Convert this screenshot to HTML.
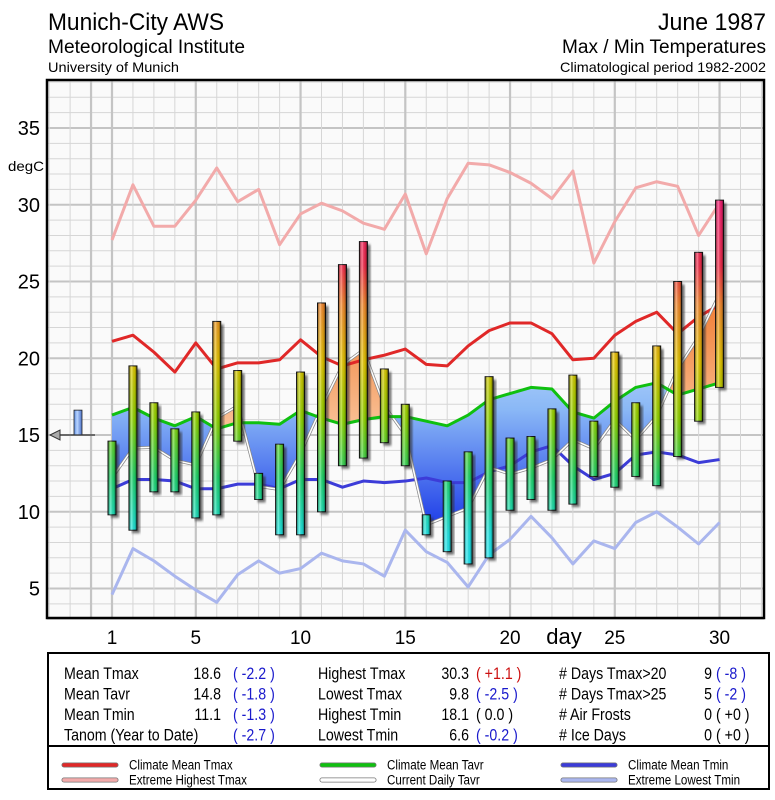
<!DOCTYPE html>
<html><head><meta charset="utf-8"><style>
body{margin:0;background:#fff;}
svg{display:block;font-family:"Liberation Sans",sans-serif;}
</style></head><body>
<svg id="chart" width="775" height="800" viewBox="0 0 775 800">
<defs>
<linearGradient id="gBlue" x1="0" y1="0" x2="0" y2="1"><stop offset="0" stop-color="#e0f0ff"/><stop offset="0.5" stop-color="#8ab8f6"/><stop offset="1" stop-color="#1f3ee8"/></linearGradient>
<linearGradient id="gOrange" x1="0" y1="0" x2="0" y2="1"><stop offset="0" stop-color="#f07a30"/><stop offset="1" stop-color="#fff4e0"/></linearGradient>
<linearGradient id="gCyl" x1="0" y1="0" x2="1" y2="0"><stop offset="0" stop-color="#000" stop-opacity="0.45"/><stop offset="0.35" stop-color="#fff" stop-opacity="0.35"/><stop offset="0.7" stop-color="#000" stop-opacity="0.1"/><stop offset="1" stop-color="#000" stop-opacity="0.55"/></linearGradient>
<filter id="blur"><feGaussianBlur stdDeviation="1.2"/></filter>
<linearGradient id="gMark" x1="0" y1="0" x2="1" y2="0"><stop offset="0" stop-color="#5a8ae0"/><stop offset="0.4" stop-color="#b8d4ff"/><stop offset="1" stop-color="#4a70c8"/></linearGradient>
</defs>
<g>
<text x="48" y="30" font-size="24" textLength="176" lengthAdjust="spacingAndGlyphs">Munich-City AWS</text>
<text x="48" y="53" font-size="19" textLength="197" lengthAdjust="spacingAndGlyphs">Meteorological Institute</text>
<text x="48" y="72" font-size="14" textLength="131" lengthAdjust="spacingAndGlyphs">University of Munich</text>
<text x="766" y="30" font-size="24" text-anchor="end" textLength="108" lengthAdjust="spacingAndGlyphs">June 1987</text>
<text x="766" y="53" font-size="19" text-anchor="end" textLength="204" lengthAdjust="spacingAndGlyphs">Max / Min Temperatures</text>
<text x="766" y="72" font-size="14" text-anchor="end" textLength="206" lengthAdjust="spacingAndGlyphs">Climatological period 1982-2002</text>
</g>
<g id="plot"></g>
<g font-size="16">
<rect x="48" y="653" width="721" height="93" fill="#fff" stroke="#000" stroke-width="2"/>
<rect x="48" y="746" width="721" height="43" fill="#fff" stroke="#000" stroke-width="2"/>
<g id="stats"></g>
<g id="legend" font-size="12"></g>
</g>
</svg>
<script>
const days=[];for(let i=1;i<=30;i++)days.push(i);
const tmax=[14.6,19.5,17.1,15.4,16.5,22.4,19.2,12.5,14.4,19.1,23.6,26.1,27.6,19.3,17.0,9.8,12.0,13.9,18.8,14.8,14.9,16.7,18.9,15.9,20.4,17.1,20.8,25.0,26.9,30.3];
const tmin=[9.8,8.8,11.3,11.3,9.6,9.8,14.6,10.8,8.5,8.5,10.0,13.0,13.5,14.5,13.0,8.5,7.4,6.6,7.0,10.1,10.8,10.1,10.5,12.3,11.6,12.3,11.7,13.6,15.9,18.1];
const climMax=[21.1,21.5,20.4,19.1,21.0,19.3,19.7,19.7,19.9,21.2,20.1,19.5,19.9,20.2,20.6,19.6,19.5,20.8,21.8,22.3,22.3,21.6,19.9,20.0,21.5,22.4,23.0,21.6,22.7,23.5];
const climAvg=[16.3,16.8,16.1,15.6,16.2,15.4,15.8,15.8,15.7,16.6,16.1,15.7,16.0,16.2,16.2,15.9,15.6,16.3,17.3,17.7,18.1,18.0,16.5,16.1,17.2,18.1,18.4,17.6,18.0,18.4];
const climMin=[11.5,12.1,12.1,12.0,11.5,11.5,11.8,11.8,11.5,12.1,12.1,11.6,12.0,11.9,12.0,12.2,11.9,11.9,12.6,13.0,13.9,14.3,13.0,12.1,12.5,13.7,13.9,13.7,13.2,13.4];
const extMax=[27.7,31.3,28.6,28.6,30.3,32.4,30.2,31.0,27.4,29.4,30.1,29.6,28.8,28.4,30.7,26.8,30.4,32.7,32.6,32.1,31.4,30.4,32.2,26.2,28.9,31.1,31.5,31.2,28.0,30.1];
const extMin=[4.6,7.6,6.8,5.8,4.9,4.1,5.9,6.8,6.0,6.3,7.3,6.8,6.6,5.8,8.8,7.4,6.7,5.1,7.2,8.2,9.7,8.3,6.6,8.1,7.6,9.3,10.0,9.0,7.9,9.3];
const yTicks=[5,10,15,20,25,30,35];
const xTicks=[1,5,10,15,20,25,30];
const tanomMark=-2.7;

const NS="http://www.w3.org/2000/svg";
const L=47,R=764,T=80,B=618;
const X=d=>112+(d-1)*20.95;
const Y=t=>435-(t-15)*15.35;
const plot=document.getElementById('plot');
function mk(tag,attrs,parent){const e=document.createElementNS(NS,tag);for(const k in attrs)e.setAttribute(k,attrs[k]);(parent||plot).appendChild(e);return e;}
mk('rect',{x:L,y:T,width:R-L,height:B-T,fill:'#fafafa'});
for(let t=3;t<=38;t++){const g=mk('line',{x1:L,x2:R,y1:Y(t),y2:Y(t),stroke:t%5==0?'#c4c4c4':'#d6d6d6','stroke-width':t%5==0?2:1});

}
for(let d=-2;d<=32;d++){const maj=(d%5==0||d==1);const g=mk('line',{x1:X(d),x2:X(d),y1:T,y2:B,stroke:maj?'#c4c4c4':'#d6d6d6','stroke-width':maj?2.2:1});

}
const tavr=days.map((d,i)=>(tmax[i]+tmin[i])/2);
const ptsClim=days.map((d,i)=>X(d)+','+Y(climAvg[i]));
const ptsAvr=days.map((d,i)=>X(d)+','+Y(tavr[i]));
const defs=document.querySelector('defs');
mk('clipPath',{id:'below'},defs).appendChild((()=>{const p=document.createElementNS(NS,'polygon');p.setAttribute('points',ptsClim.join(' ')+' '+X(30)+','+B+' '+X(1)+','+B);return p;})());
mk('clipPath',{id:'above'},defs).appendChild((()=>{const p=document.createElementNS(NS,'polygon');p.setAttribute('points',ptsClim.join(' ')+' '+X(30)+','+T+' '+X(1)+','+T);return p;})());
const between=ptsClim.join(' ')+' '+ptsAvr.slice().reverse().join(' ');
const fb=mk('polygon',{points:between,fill:'url(#gBlue)','clip-path':'url(#below)'});


const fo=mk('polygon',{points:between,fill:'url(#gOrange)','clip-path':'url(#above)'});


function line(arr,color,w,name){const p=mk('polyline',{points:days.map((d,i)=>X(d)+','+Y(arr[i])).join(' '),fill:'none',stroke:color,'stroke-width':w,'stroke-linejoin':'round'});

return p;}
line(extMax,'#f2aaaa',3,'extreme-highest-tmax-line');
line(extMin,'#aab6ee',3,'extreme-lowest-tmin-line');
line(climMax,'#e02828',3,'climate-mean-tmax-line');
line(climMin,'#3c3cd8',3,'climate-mean-tmin-line');
line(tavr,'#888',3,'current-daily-tavr-outline');
line(tavr,'#fff',1.5,'current-daily-tavr-line');
line(climAvg,'#10c010',3,'climate-mean-tavr-line');
const bg=mk('linearGradient',{id:'gTemp',gradientUnits:'userSpaceOnUse',x1:0,x2:0,y1:Y(31),y2:Y(6)},defs);
[[0,'#ff2080'],[0.2,'#ff3050'],[0.3,'#ff9030'],[0.45,'#f0d000'],[0.6,'#98e000'],[0.75,'#20e070'],[0.9,'#20f0f0'],[1,'#20f0ff']].forEach(s=>mk('stop',{offset:s[0],'stop-color':s[1]},bg));
days.forEach((d,i)=>{
 const x=X(d)-4,y1=Y(tmax[i]),y2=Y(tmin[i]);
 const sh=mk('rect',{x:x+3,y:y1+3,width:8,height:y2-y1,fill:'#333',opacity:0.7,filter:'url(#blur)'});
 
 
 const r=mk('rect',{x:x,y:y1,width:8,height:y2-y1,fill:'url(#gTemp)',stroke:'#111','stroke-width':1});
 
 
 mk('rect',{x:x,y:y1,width:8,height:y2-y1,fill:'url(#gCyl)'});
});
mk('rect',{x:L,y:T,width:R-L,height:B-T,fill:'none',stroke:'#000','stroke-width':2.5});
const mb=mk('rect',{x:74,y:Y(15+Math.abs(tanomMark)*0.6),width:8,height:Y(15)-Y(15+Math.abs(tanomMark)*0.6),fill:'url(#gMark)',stroke:'#222','stroke-width':0.8});


mk('line',{x1:58,x2:95,y1:Y(15),y2:Y(15),stroke:'#333','stroke-width':1.2});
const ar=mk('polygon',{points:`50,${Y(15)} 60,${Y(15)-5} 60,${Y(15)+5}`,fill:'#aaa',stroke:'#333','stroke-width':1});


yTicks.forEach(t=>{const e=mk('text',{x:40,y:Y(t)+7,'font-size':20,'text-anchor':'end'});e.textContent=t;

});
const dg=mk('text',{x:8,y:171,'font-size':14,textLength:36,lengthAdjust:'spacingAndGlyphs'});dg.textContent='degC';


xTicks.forEach(d=>{const e=mk('text',{x:X(d),y:644,'font-size':19,'text-anchor':'middle'});e.textContent=d;

});
const dy=mk('text',{x:564,y:644,'font-size':22,'text-anchor':'middle'});dy.textContent='day';


function condense(e,f){const w=e.getComputedTextLength();if(w>0){e.setAttribute('textLength',(w*f).toFixed(1));e.setAttribute('lengthAdjust','spacingAndGlyphs');}}
const st=document.getElementById('stats');
const rows=[
[[64,'Mean Tmax'],[221,'18.6','e'],[233,'( -2.2 )','b'],[318,'Highest Tmax'],[469,'30.3','e'],[476,'( +1.1 )','r'],[559,'# Days Tmax>20'],[712,'9','e'],[716,'( -8 )','b']],
[[64,'Mean Tavr'],[221,'14.8','e'],[233,'( -1.8 )','b'],[318,'Lowest Tmax'],[469,'9.8','e'],[476,'( -2.5 )','b'],[559,'# Days Tmax>25'],[712,'5','e'],[716,'( -2 )','b']],
[[64,'Mean Tmin'],[221,'11.1','e'],[233,'( -1.3 )','b'],[318,'Highest Tmin'],[469,'18.1','e'],[476,'(  0.0 )'],[559,'# Air Frosts'],[712,'0','e'],[716,'( +0 )']],
[[64,'Tanom (Year to Date)'],[233,'( -2.7 )','b'],[318,'Lowest Tmin'],[469,'6.6','e'],[476,'( -0.2 )','b'],[559,'# Ice Days'],[712,'0','e'],[716,'( +0 )']]];
rows.forEach((row,ri)=>row.forEach(c=>{const e=mk('text',{x:c[0],y:679+ri*20.5,'font-size':16.5,fill:c[2]=='b'?'#1a1acc':c[2]=='r'?'#cc1010':'#000','text-anchor':c[2]=='e'?'end':'start','xml:space':'preserve'},st);
e.textContent=c[1];


condense(e,0.86);}));
const lg=document.getElementById('legend');
[[64,765,'#e02828','Climate Mean Tmax'],[64,780,'#f2aaaa','Extreme Highest Tmax'],[322,765,'#10c010','Climate Mean Tavr'],[322,780,'#fff','Current Daily Tavr'],[563,765,'#3c3cd8','Climate Mean Tmin'],[563,780,'#aab6ee','Extreme Lowest Tmin']].forEach(l=>{
 mk('line',{x1:l[0],x2:l[0]+52,y1:l[1],y2:l[1],stroke:'#777','stroke-width':5,'stroke-linecap':'round'},lg);
 const ln=mk('line',{x1:l[0],x2:l[0]+52,y1:l[1],y2:l[1],stroke:l[2],'stroke-width':3.4,'stroke-linecap':'round'},lg);
 
 
 const t=mk('text',{x:l[0]+65,y:l[1]+4.5,'font-size':13.5},lg);t.textContent=l[3];
 
 
 condense(t,0.86);
});
</script>
</body></html>
